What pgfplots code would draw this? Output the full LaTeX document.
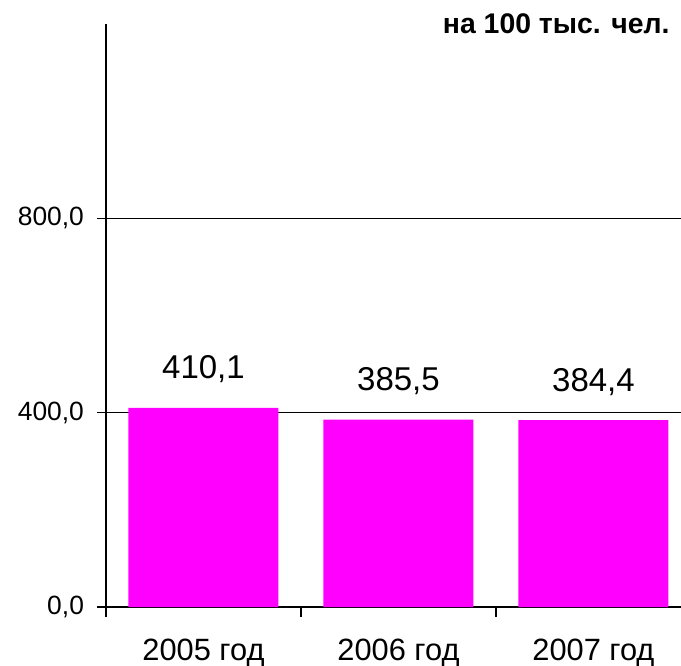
\documentclass[border=0pt]{standalone}
\usepackage{fontspec}
\setmainfont{Liberation Sans}
\usepackage{pgfplots}
\pgfplotsset{compat=1.18}
\definecolor{barpink}{HTML}{FF00FF}

% one pixel of the reference = 0.5pt
\begin{document}
\begin{tikzpicture}[x=1pt,y=1pt]
\begin{axis}[
    at={(0,0)}, anchor=south west,
    scale only axis,
    width=287.5pt, height=291.5pt,
    xmin=-0.5, xmax=2.449,
    ymin=0, ymax=1200,
    axis x line=bottom, axis y line=left,
    axis line style={-, black, line width=0.6pt},
    clip=false,
    xtick={0,1,2},
    xticklabels={2005 год, 2006 год, 2007 год},
    minor xtick={-0.5,0.5,1.5},
    major x tick style={draw=none},
    minor x tick style={black, line width=0.6pt},
    minor tick length=5pt,
    ytick={0,400,800},
    major tick length=4.5pt,
    tick align=outside,
    ytick style={black, line width=0.6pt},
    ymajorgrids,
    grid style={black, line width=0.6pt},
    /pgf/number format/assume math mode=true,
    yticklabel style={font=\fontsize{13.2pt}{15pt}\selectfont, xshift=-3pt,
        /pgf/number format/.cd, fixed, fixed zerofill, precision=1, use comma},
    xticklabel style={font=\fontsize{15.4pt}{18pt}\selectfont, anchor=base, yshift=-22pt},
    ybar, bar width=75pt,
    nodes near coords,
    nodes near coords style={font=\fontsize{16.5pt}{19pt}\selectfont, anchor=base, yshift=14.5pt,
        /pgf/number format/.cd, fixed, fixed zerofill, precision=1, use comma},
]
\addplot[fill=barpink, draw=none] coordinates {(0,410.1) (1,385.5) (2,384.4)};
\end{axis}
\node[anchor=base east, inner sep=0pt, font=\bfseries\fontsize{14.2pt}{16pt}\selectfont] at (282,286.5) {на 100 тыс. чел.};
\pgfresetboundingbox
\useasboundingbox (-53,-29) rectangle (287.5,303.5);
\end{tikzpicture}
\end{document}
